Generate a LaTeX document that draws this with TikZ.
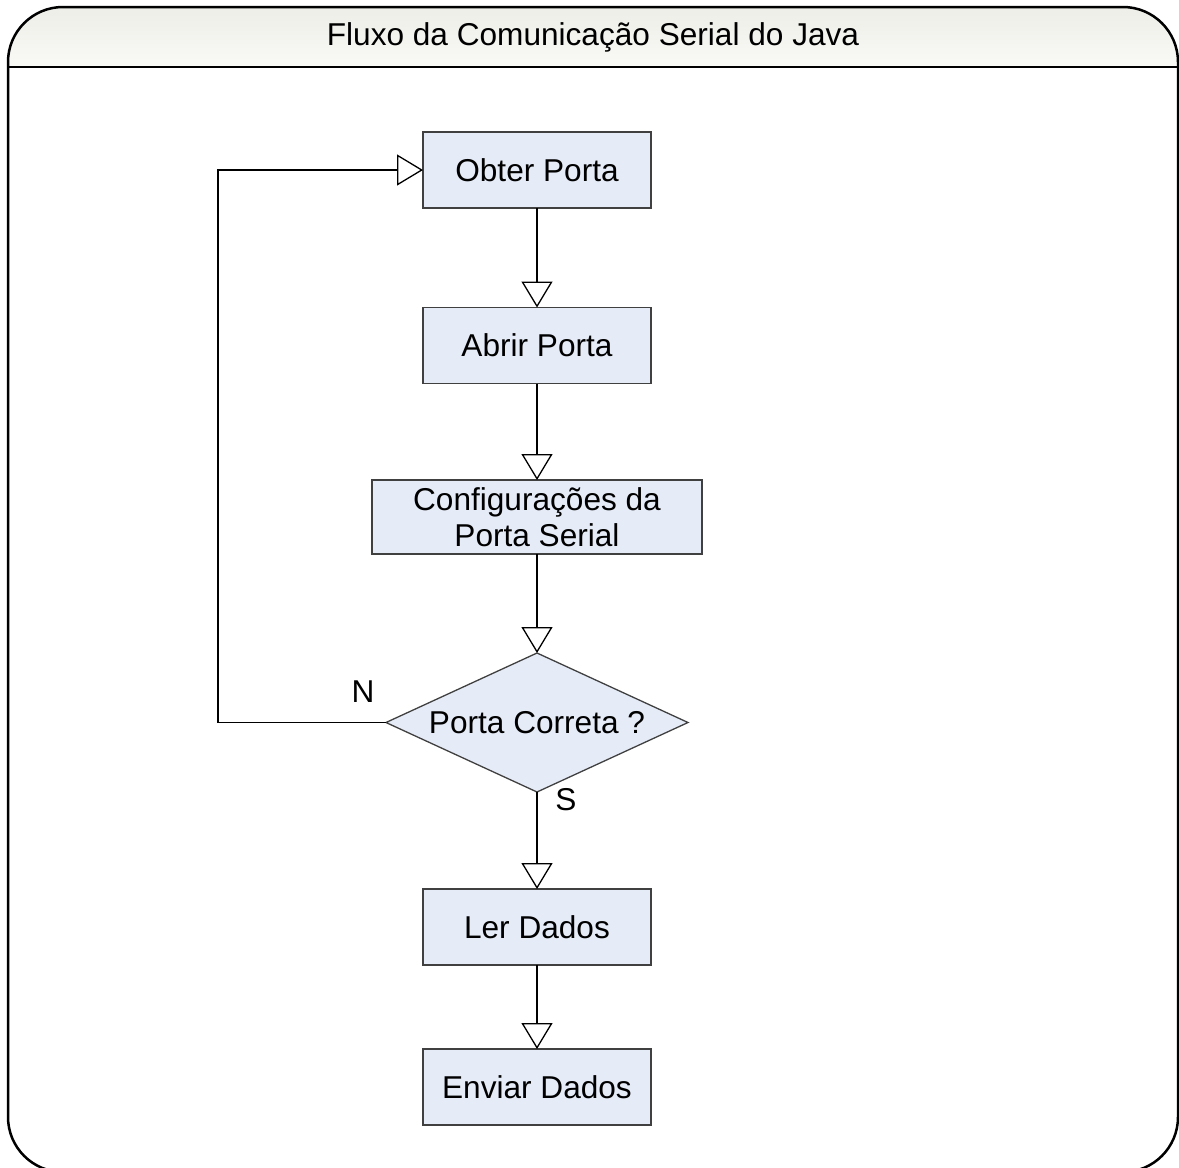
\documentclass[tikz,border=0pt]{standalone}
\usepackage{fontspec}
\setmainfont{Liberation Sans}
\usetikzlibrary{arrows.meta,shapes.geometric}
\definecolor{boxfill}{RGB}{229,235,247}
\definecolor{boxline}{RGB}{64,64,64}
\definecolor{headtop}{RGB}{238,238,232}
\definecolor{headbot}{RGB}{249,249,246}
\begin{document}
\begin{tikzpicture}[x=1pt,y=-1pt,
  every node/.style={font=\fontsize{31.6}{38}\selectfont},
  stepbox/.style={draw=boxline,line width=1.3pt,fill=boxfill,rectangle,
    minimum width=228pt,minimum height=76pt,inner sep=0pt,outer sep=0pt},
  decision/.style={draw=boxline,line width=1.3pt,fill=boxfill,diamond,
    minimum width=302pt,minimum height=139pt,inner sep=0pt,outer sep=0pt},
  flow/.style={line width=1.3pt,
    -{Triangle[open,length=26pt,width=31pt]}},
  tag/.style={inner sep=0pt}]
\useasboundingbox (0,0) rectangle (1179,1168);

% header band
\shade[top color=headtop,bottom color=headbot]
  (8,67) -- (8,62) arc[start angle=180,end angle=270,radius=55]
  -- (1123,7) arc[start angle=270,end angle=360,radius=55]
  -- (1178,67) -- cycle;
% outer frame
\draw[line width=2.5pt]
  (8,62) arc[start angle=180,end angle=270,radius=55]
  -- (1123,7) arc[start angle=270,end angle=360,radius=55]
  -- (1178,1117) arc[start angle=0,end angle=90,radius=55]
  -- (63,1172) arc[start angle=90,end angle=180,radius=55] -- cycle;
\draw[line width=2.5pt] (8,67) -- (1178,67);
\node[tag] (title) at (593,37) {Fluxo da Comunicação Serial do Java};

% flowchart steps
\node[stepbox] (obter) at (537,170) {Obter Porta};
\node[stepbox] (abrir) at (537,345.5) {Abrir Porta};
\node[stepbox,minimum width=330pt,minimum height=74pt,align=center,
  font=\fontsize{31.6}{36}\selectfont] (config) at (537,517)
  {Configurações da\\Porta Serial};
\node[decision,label={[tag]center:Porta Correta ?}] (dec) at (537,722.5) {};
\node[stepbox] (ler) at (537,927) {Ler Dados};
\node[stepbox] (enviar) at (537,1087) {Enviar Dados};

% connectors
\draw[flow] (obter) -- (abrir);
\draw[flow] (abrir) -- (config);
\draw[flow] (config.south) -- (dec.north);
\draw[flow] (dec.south) -- (ler.north);
\draw[flow] (ler) -- (enviar);
\coordinate (loopbot) at (218,722.5);
\coordinate (looptop) at (218,170);
\draw[flow] (dec.west) -- (loopbot) -- (looptop) -- (obter.west);

% branch labels
\node[tag] (nlabel) at (363,692) {N};
\node[tag] (slabel) at (566,800) {S};
\end{tikzpicture}
\end{document}
